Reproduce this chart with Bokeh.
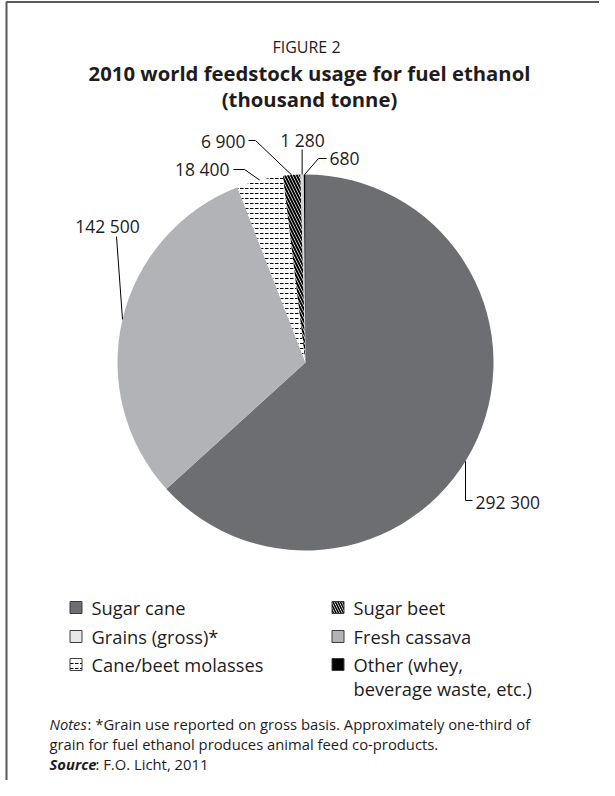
import math
from bokeh.plotting import figure
from bokeh.models import Range1d
from bokeh.core.properties import value
from bokeh.embed import file_html
from bokeh.resources import INLINE

# ---------------- data ----------------
categories = ["Sugar cane", "Grains (gross)*", "Cane/beet molasses",
              "Sugar beet", "Fresh cassava", "Other (whey, beverage waste, etc.)"]
values = [292300, 142500, 18400, 6900, 1280, 680]
slice_colors = ["#6d6e71", "#b1b3b6", "#ffffff", "#ffffff", "#d6d7d9", "#000000"]
slice_hatch = [" ", " ", '"', "\\", " ", " "]
legend_colors = ["#6d6e71", "#e6e7e8", "#ffffff", "#ffffff", "#b1b3b6", "#000000"]
legend_labels = ["Sugar cane", "Grains (gross)*", "Cane/beet molasses",
                 "Sugar beet", "Fresh cassava", "Other (whey,\nbeverage waste, etc.)"]

fig_label = "FIGURE 2"
title_lines = ["2010 world feedstock usage for fuel ethanol", "(thousand tonne)"]
notes_lines = ["*Grain use reported on gross basis. Approximately one-third of",
               "grain for fuel ethanol produces animal feed co-products."]
source_text = "F.O. Licht, 2011"

# ---------------- layout ----------------
W, H = 599, 780
FONT = "Open Sans"
TXT = "#1f1c1d"


def px(x):
    return x - 8


def py(y):
    return 788 - y


p = figure(width=W, height=H, output_backend="svg", toolbar_location=None,
           x_range=Range1d(0, W), y_range=Range1d(0, H),
           x_axis_location=None, y_axis_location=None, min_border=0,
           outline_line_color=None, background_fill_color="white",
           border_fill_color="white", title=None)
p.grid.visible = False

# frame (top and left edges visible; the box runs off the page)
p.quad(left=[px(14)], right=[W + 20], top=[py(9.5)], bottom=[-20],
       fill_color=None, line_color="#58595b", line_width=2)

# ---------------- pie ----------------
cx, cy, r = px(313), py(370), 188
total = float(sum(values))
cum = [0.0]
for v in values:
    cum.append(cum[-1] + v / total * 360.0)

for i, v in enumerate(values):
    a0 = math.radians(90 - cum[i])
    a1 = math.radians(90 - cum[i + 1])
    kw = {}
    if slice_hatch[i].strip():
        diag = slice_hatch[i] == "\\"
        kw = dict(hatch_pattern=slice_hatch[i], hatch_color="black",
                  hatch_scale=6 if diag else 5,
                  hatch_weight=2 if diag else 1)
    p.wedge(x=[cx], y=[cy], radius=r, start_angle=a0, end_angle=a1,
            direction="clock", fill_color=slice_colors[i], line_color=None, **kw)


def mid_edge(i):
    a = math.radians(90 - (cum[i] + cum[i + 1]) / 2)
    return cx + r * math.cos(a), cy + r * math.sin(a)


def fmt(v):
    return f"{v:,}".replace(",", " ")


lab_font = "17.5px"


def label(x, y, txt, align):
    p.text([x], [y], text=[txt], text_align=align, text_baseline="middle",
           text_font=value(FONT), text_font_size=lab_font, text_color=TXT)


# Sugar cane
lx = px(473)
ey = cy - math.sqrt(r * r - (lx - cx) ** 2)
p.line([lx, lx, px(480)], [ey, py(508), py(508)], line_color="black", line_width=1)
label(px(483), py(509), fmt(values[0]), "left")
# Grains
ex, ey = mid_edge(1)
p.line([px(124), ex], [py(244), ey], line_color="black", line_width=1)
label(px(115), py(233), fmt(values[1]), "center")
# Molasses
ex, ey = mid_edge(2)
p.line([px(241), px(252), ex], [py(177), py(177), ey], line_color="black", line_width=1)
label(px(237), py(176), fmt(values[2]), "right")
# Sugar beet
ex, ey = mid_edge(3)
p.line([px(256), px(263), ex], [py(148), py(148), ey], line_color="black", line_width=1)
label(px(253), py(148), fmt(values[3]), "right")
# Cassava
ex, ey = mid_edge(4)
p.line([ex, ex], [py(157), ey], line_color="black", line_width=1)
label(px(310), py(147), fmt(values[4]), "center")
# Other
ex, ey = mid_edge(5)
p.line([px(334), px(326), ex], [py(166), py(166), ey], line_color="black", line_width=1)
label(px(337), py(166), fmt(values[5]), "left")

# ---------------- titles ----------------
p.text([px(314)], [py(54)], text=[fig_label], text_align="center", text_baseline="middle",
       text_font=value(FONT), text_font_size="16px", text_color=TXT)
p.text([px(317), px(317)], [py(80), py(106)], text=title_lines, text_align="center",
       text_baseline="middle", text_font=value(FONT), text_font_size="20.3px",
       text_font_style="bold", text_color=TXT)

# ---------------- legend ----------------
col_x = [px(77), px(339)]
row_y = [615, 644, 672]
leg_pos = [(0, 0), (0, 1), (0, 2), (1, 0), (1, 1), (1, 2)]
for i, lab in enumerate(legend_labels):
    c, rr = leg_pos[i]
    bx = col_x[c] + 6.5
    by = py(row_y[rr])
    kw = {}
    if slice_hatch[i].strip():
        diag = slice_hatch[i] == "\\"
        kw = dict(hatch_pattern=slice_hatch[i], hatch_color="black",
                  hatch_scale=5,
                  hatch_weight=1.6 if diag else 1)
    p.rect([bx], [by], width=12, height=12, fill_color=legend_colors[i],
           line_color="#3d3d3f", line_width=1, **kw)
    for k, part in enumerate(lab.split("\n")):
        p.text([col_x[c] + 22], [by - 24 * k], text=[part], text_align="left",
               text_baseline="middle", text_font=value(FONT), text_font_size="18.3px",
               text_color=TXT)

# ---------------- notes ----------------
nfs = "14.8px"
nx = px(57)
p.text([nx], [py(731)], text=["Notes"], text_align="left", text_baseline="middle",
       text_font=value(FONT), text_font_size=nfs, text_font_style="italic", text_color=TXT)
p.text([nx + 38], [py(731)], text=[": " + notes_lines[0]], text_align="left",
       text_baseline="middle", text_font=value(FONT), text_font_size=nfs, text_color=TXT)
p.text([nx], [py(751)], text=[notes_lines[1]], text_align="left", text_baseline="middle",
       text_font=value(FONT), text_font_size=nfs, text_color=TXT)
p.text([nx], [py(771)], text=["Source"], text_align="left", text_baseline="middle",
       text_font=value(FONT), text_font_size=nfs, text_font_style="bold italic", text_color=TXT)
p.text([nx + 46], [py(771)], text=[": " + source_text], text_align="left",
       text_baseline="middle", text_font=value(FONT), text_font_size=nfs, text_color=TXT)

open("out.html", "w").write(file_html(p, INLINE))
